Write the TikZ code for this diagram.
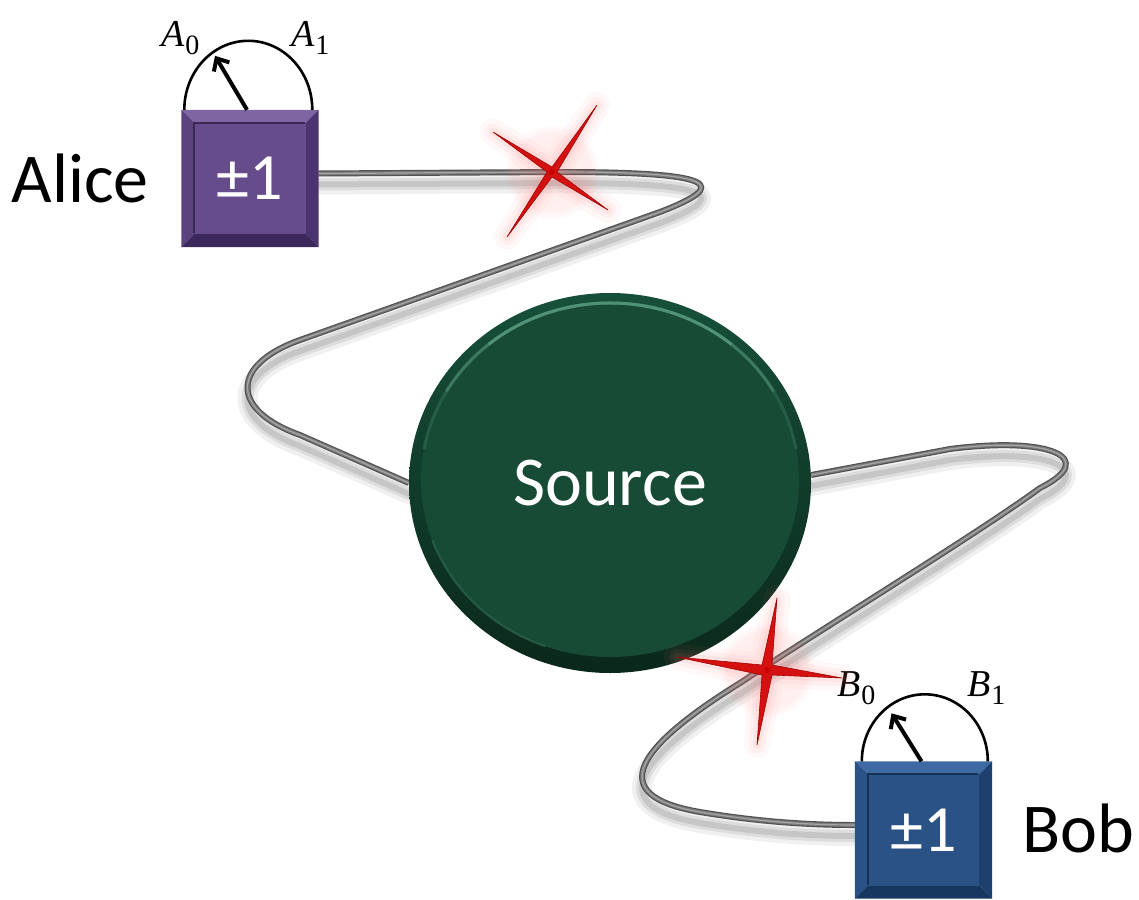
\documentclass[tikz,border=0pt]{standalone}
\usepackage{fontspec}
\newfontfamily\carlito{Carlito}
\newfontfamily\labelserif{Liberation Serif}
\usetikzlibrary{shapes.geometric,arrows.meta,fadings,calc}

\definecolor{srcface}{HTML}{174B35}
\definecolor{srcrimtop}{HTML}{17503A}
\definecolor{srcrimbot}{HTML}{0A281B}
\definecolor{srcshine}{HTML}{5A9C80}
\definecolor{alface}{HTML}{664C8B}
\definecolor{altop}{HTML}{7E66A3}
\definecolor{alleft}{HTML}{5B4380}
\definecolor{alright}{HTML}{4A336E}
\definecolor{albot}{HTML}{3C285B}
\definecolor{alline}{HTML}{3A2755}
\definecolor{bbface}{HTML}{2B5285}
\definecolor{bbtop}{HTML}{3F69A2}
\definecolor{bbleft}{HTML}{2A5287}
\definecolor{bbright}{HTML}{1E406E}
\definecolor{bbbot}{HTML}{183760}
\definecolor{bbline}{HTML}{163155}
\definecolor{sparkred}{HTML}{D51010}
\definecolor{sparkedge}{HTML}{9E0606}

% italic letter with an upright subscript digit
\newcommand{\obslabel}[2]{{\itshape #1}\kern1pt\raisebox{-0.22em}{\fontsize{28}{32}\selectfont\upshape #2}}

\tikzset{
  holder/.style={draw=none, inner sep=0pt, minimum width=137pt, minimum height=137pt},
  pmtext/.style={text=white, font=\carlito\fontsize{66}{78}\selectfont, inner sep=0pt},
  nametext/.style={text=black, font=\carlito\fontsize{70}{84}\selectfont, inner sep=0pt},
  mathlbl/.style={text=black, font=\labelserif\fontsize{38}{44}\selectfont, inner sep=0pt, anchor=base west},
  dialarc/.style={draw=black, line width=2.6pt},
  dialneedle/.style={draw=black, line width=4pt, -{Straight Barb[length=10pt,width=18pt,line width=4pt]}},
  fibershade/.style={draw=black, line cap=round, line join=round},
  sparkglow/.style={draw=red!55, line join=round, fill=red!55},
  sparkbody/.style={fill=sparkred, draw=sparkedge, line width=0.6pt, line join=miter},
}

% bevelled square: #1 node, #2 face, #3 top, #4 left, #5 right, #6 bottom, #7 inner line
\newcommand{\bevelbox}[7]{%
  \coordinate (#1-inw) at ([shift={(13pt,-13pt)}]#1.north west);
  \coordinate (#1-ine) at ([shift={(-13pt,-13pt)}]#1.north east);
  \coordinate (#1-ise) at ([shift={(-13pt,13pt)}]#1.south east);
  \coordinate (#1-isw) at ([shift={(13pt,13pt)}]#1.south west);
  \fill[#3] (#1.north west) -- (#1.north east) -- (#1-ine) -- (#1-inw) -- cycle;
  \fill[#4] (#1.north west) -- (#1-inw) -- (#1-isw) -- (#1.south west) -- cycle;
  \fill[#5] (#1.north east) -- (#1.south east) -- (#1-ise) -- (#1-ine) -- cycle;
  \fill[#6] (#1.south west) -- (#1-isw) -- (#1-ise) -- (#1.south east) -- cycle;
  \fill[#2] (#1-inw) rectangle (#1-ise);
  \draw[#7, line width=2.2pt] ([yshift=1pt]#1-isw) -- (#1-inw) -- ([xshift=-1pt]#1-ine);
}

\begin{document}
\begin{tikzpicture}[x=1pt, y=-1pt]
\useasboundingbox (0,0) rectangle (1139,899);

% placeholders for the three devices
\node[holder] (alice) at (250,178.5) {};
\node[holder] (bob) at (923.5,830) {};
\node[ellipse, draw=none, inner sep=0pt, minimum width=402pt, minimum height=380pt] (source) at (610,483) {};

% fibre routes
\def\fiberA{([yshift=5pt]alice.east) -- (560,172) .. controls (720,172) and (730,185) .. (660,212)
  -- (300,340) .. controls (230,365) and (230,410) .. (300,435) -- (source.west)}
\def\fiberB{([yshift=8pt]source.east) -- (950,449) .. controls (1050,436) and (1100,458) .. (1040,488)
  .. controls (980,532) and (820,630) .. (740,683) .. controls (640,745) and (600,795) .. (700,812)
  .. controls (760,822) and (810,825) .. ([yshift=5pt]bob.west)}

% soft shadows under the fibres
\begin{scope}[transform canvas={yshift=-11pt}]
  \foreach \fb in {\fiberA,\fiberB}{
    \draw[fibershade, line width=20pt, opacity=0.06] \fb;
    \draw[fibershade, line width=12pt, opacity=0.08] \fb;
    \draw[fibershade, line width=6pt, opacity=0.10] \fb;
  }
\end{scope}

% fibre tubes
\foreach \fb in {\fiberA,\fiberB}{
  \draw[line width=6pt, black!68, line join=round] \fb;
  \draw[line width=3.6pt, black!52, line join=round] \fb;
  \draw[line width=1.2pt, black!35, line join=round] \fb;
}

% source disc
\shade[top color=srcrimtop, bottom color=srcrimbot] (source.center) ellipse [x radius=201pt, y radius=190pt];
\fill[srcface] ([yshift=3pt]source.center) ellipse [x radius=189pt, y radius=177pt];
\begin{scope}[shift={([yshift=3pt]source.center)}]
  \draw[srcshine, line width=3pt, opacity=0.25] (10:189pt and 177pt) arc[start angle=10, end angle=170, x radius=189pt, y radius=177pt];
  \draw[srcshine, line width=3pt, opacity=0.45] (30:189pt and 177pt) arc[start angle=30, end angle=150, x radius=189pt, y radius=177pt];
  \draw[srcshine, line width=3pt, opacity=0.7] (50:189pt and 177pt) arc[start angle=50, end angle=130, x radius=189pt, y radius=177pt];
  \draw[srcshine!50!srcface, line width=2pt, opacity=0.5] (200:189pt and 177pt) arc[start angle=200, end angle=250, x radius=189pt, y radius=177pt];
\end{scope}
\node[nametext, text=white] (sourcetext) at (source.center) {Source};

% measurement boxes
\bevelbox{alice}{alface}{altop}{alleft}{alright}{albot}{alline}
\bevelbox{bob}{bbface}{bbtop}{bbleft}{bbright}{bbbot}{bbline}
\node[pmtext] (alicepm) at (alice.center) {±1};
\node[pmtext] (bobpm) at (bob.center) {±1};

% measurement dials
\draw[dialarc] ([xshift=3pt]alice.north west) arc[start angle=180, end angle=0, x radius=64pt, y radius=69pt];
\draw[dialneedle] ([xshift=-3pt]alice.north) -- ++(-32,-54);
\draw[dialarc] ([xshift=7pt]bob.north west) arc[start angle=180, end angle=0, x radius=63pt, y radius=67pt];
\draw[dialneedle] ([xshift=-2pt]bob.north) -- ++(-30,-48);

\node[mathlbl] (a0) at (161,46) {\obslabel{A}{0}};
\node[mathlbl] (a1) at (291,46) {\obslabel{A}{1}};
\node[mathlbl] (b0) at (837,696) {\obslabel{B}{0}};
\node[mathlbl] (b1) at (967,696) {\obslabel{B}{1}};

% sparkle crosses marking the fibres
\def\sparkU{(597,105) -- (557,172) -- (608,210) -- (552,177) -- (507,237) -- (547,172) -- (493,132) -- (552,167) -- cycle}
\def\sparkL{(777,598) -- (772,665) -- (842,678) -- (772,675) -- (757,745) -- (762,675) -- (677,657) -- (762,665) -- cycle}
\foreach \sp/\cx/\cy in {\sparkU/552/172,\sparkL/767/670}{
  \fill[red!60, opacity=0.10, path fading=circle with fuzzy edge 20 percent] (\cx,\cy) circle (48pt);
  \draw[sparkglow, line width=26pt, opacity=0.05] \sp;
  \draw[sparkglow, line width=16pt, opacity=0.07] \sp;
  \draw[sparkglow, line width=8pt, opacity=0.09] \sp;
  \filldraw[sparkbody] \sp;
  \fill[red!80!black] (\cx,\cy) circle (3pt);
}

% names
\node[nametext, anchor=base east] (alicename) at (149,202) {Alice};
\node[nametext, anchor=base west] (bobname) at (1022,852) {Bob};
\end{tikzpicture}
\end{document}
